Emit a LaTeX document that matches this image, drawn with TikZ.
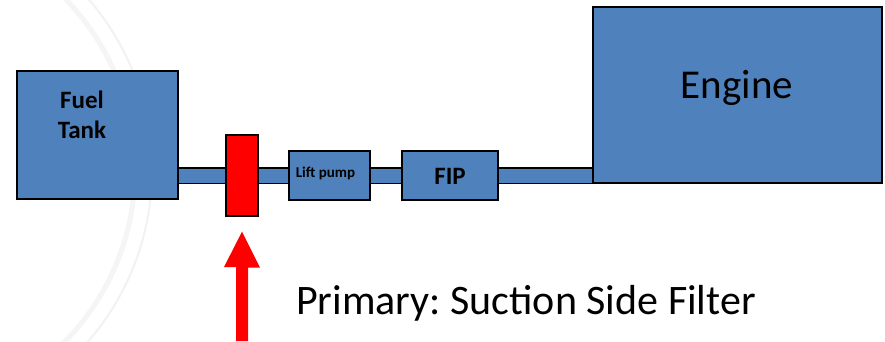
\documentclass[tikz,border=0pt]{standalone}
\usepackage{fontspec}
\setmainfont{Carlito}
\frenchspacing
\usetikzlibrary{backgrounds,calc}
\definecolor{boxblue}{HTML}{4F81BD}
\definecolor{filtred}{HTML}{FF0000}
\tikzset{
  comp/.style={draw=black, line width=1.3pt, fill=boxblue, inner sep=0pt, anchor=center},
  filterbox/.style={draw=black, line width=1.3pt, fill=filtred, inner sep=0pt, anchor=center},
  lbl/.style={inner sep=0pt, anchor=base, text=black},
  pipe/.style={draw=black, line width=1.1pt, double=boxblue, double distance=14pt}
}
\begin{document}
\begin{tikzpicture}[x=1pt,y=-1pt]
\useasboundingbox (0,0) rectangle (885,341);
% components
\node[comp, minimum width=161pt, minimum height=128pt] (tank) at (97.5,135) {};
\node[filterbox, minimum width=32pt, minimum height=81pt] (filter) at (242,175.5) {};
\node[comp, minimum width=81pt, minimum height=49pt] (lift) at (329.5,175.5) {};
\node[comp, minimum width=96pt, minimum height=49pt] (fip) at (450,175.5) {};
\node[comp, minimum width=289pt, minimum height=176pt] (engine) at (737.5,95) {};
% labels
\node[lbl, font=\bfseries\fontsize{25}{30}\selectfont, align=center] (tanktxt) at (82,138) {Fuel\\Tank};
\node[lbl, font=\bfseries\fontsize{15}{18}\selectfont] (lifttxt) at (325.5,177) {Lift pump};
\node[lbl, font=\bfseries\fontsize{25}{30}\selectfont] (fiptxt) at (450,184) {FIP};
\node[lbl, font=\fontsize{41}{49}\selectfont] (enginetxt) at (737,98) {Engine};
\node[inner sep=0pt, anchor=base west, font=\fontsize{42}{50}\selectfont] (note) at (296,314) {Primary: Suction Side Filter};
% background: white, faint watermark, pipe
\begin{pgfonlayer}{background}
\fill[white] (0,0) rectangle (885,341);
\begin{scope}
\clip (0,0) rectangle (885,341);
\draw[black!5, line width=2pt] (-110,170) circle[radius=262];
\draw[black!4, line width=5pt] (-110,170) circle[radius=245];
\end{scope}
\draw[pipe] (tank.east |- lift.center) -- (engine.west |- lift.center);
\end{pgfonlayer}
% red arrow
\coordinate (tip) at ($(filter.south)+(0,15)$);
\fill[filtred] (tip) -- ++(18,36) -- ++(-12,0) -- (248,341) -- (236,341) -- (236,267) -- (224,267) -- cycle;
\end{tikzpicture}
\end{document}
